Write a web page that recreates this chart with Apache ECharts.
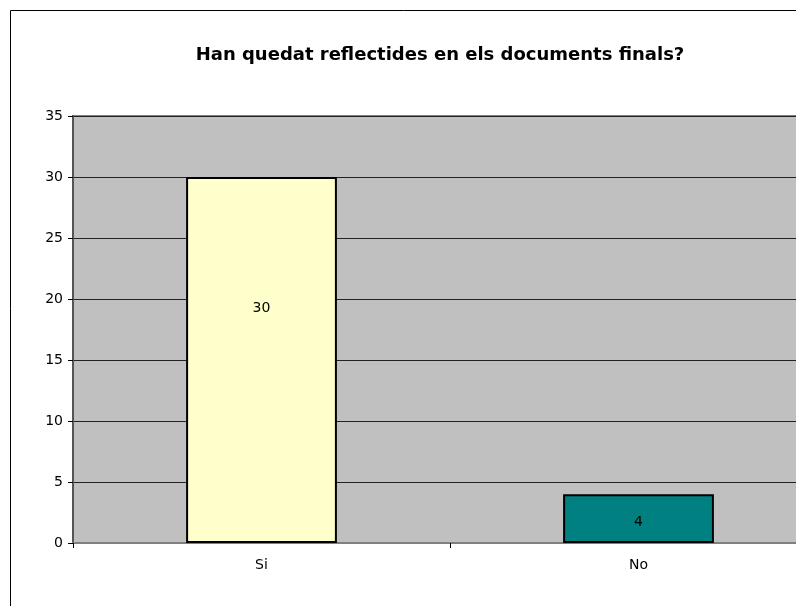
<!DOCTYPE html>
<html>
<head>
<meta charset="utf-8">
<script src="https://cdn.jsdelivr.net/npm/echarts@6/dist/echarts.min.js"></script>
<style>html,body{margin:0;padding:0;background:#fff;}#c{width:796px;height:606px;}</style>
</head>
<body>
<div id="c"></div>
<script>
const titleText = 'Han quedat reflectides en els documents finals?';
const categories = ['Si', 'No'];
const values = [30, 4];
const barColors = ['#FFFFCC', '#008080'];
const yMin = 0, yMax = 35, yInterval = 5;

const chart = echarts.init(document.getElementById('c'), null, {renderer: 'canvas'});
const font = '"DejaVu Sans", "Liberation Sans", Arial, sans-serif';
chart.setOption({
  animation: false,
  backgroundColor: '#fff',
  title: {
    text: titleText,
    left: 435, top: 41, textAlign: 'center',
    textStyle: {fontFamily: font, fontSize: 18, fontWeight: 'bold', color: '#000'}
  },
  graphic: [{
    type: 'rect', z: 100,
    shape: {x: 10.5, y: 10.5, width: 900, height: 800},
    style: {fill: 'none', stroke: '#000', lineWidth: 1}
  }],
  grid: {
    left: 73, top: 116, width: 754, bottom: 63,
    outerBoundsMode: 'none',
    show: true, backgroundColor: '#C0C0C0',
    borderColor: '#808080', borderWidth: 2
  },
  xAxis: {
    type: 'category', data: categories,
    axisLine: {lineStyle: {color: '#808080', width: 2}},
    axisTick: {show: true, length: 5, lineStyle: {color: '#000', width: 1}},
    axisLabel: {fontFamily: font, fontSize: 14, color: '#000', margin: 15}
  },
  yAxis: {
    type: 'value', min: yMin, max: yMax, interval: yInterval,
    axisLine: {show: true, lineStyle: {color: '#555', width: 2}},
    axisTick: {show: true, length: 5, lineStyle: {color: '#000'}},
    axisLabel: {fontFamily: font, fontSize: 14, color: '#000', margin: 10},
    splitLine: {show: true, lineStyle: {color: '#222', width: 1}}
  },
  series: [{
    type: 'bar',
    barWidth: '40%',
    data: values.map((v, i) => ({
      value: v,
      itemStyle: {color: barColors[i], borderColor: '#000', borderWidth: 2},
      label: {offset: i === 0 ? [0, -52] : [0, 4]}
    })),
    label: {
      show: true, position: 'inside',
      fontFamily: font, fontSize: 14, color: '#000'
    }
  }]
});
</script>
</body>
</html>
